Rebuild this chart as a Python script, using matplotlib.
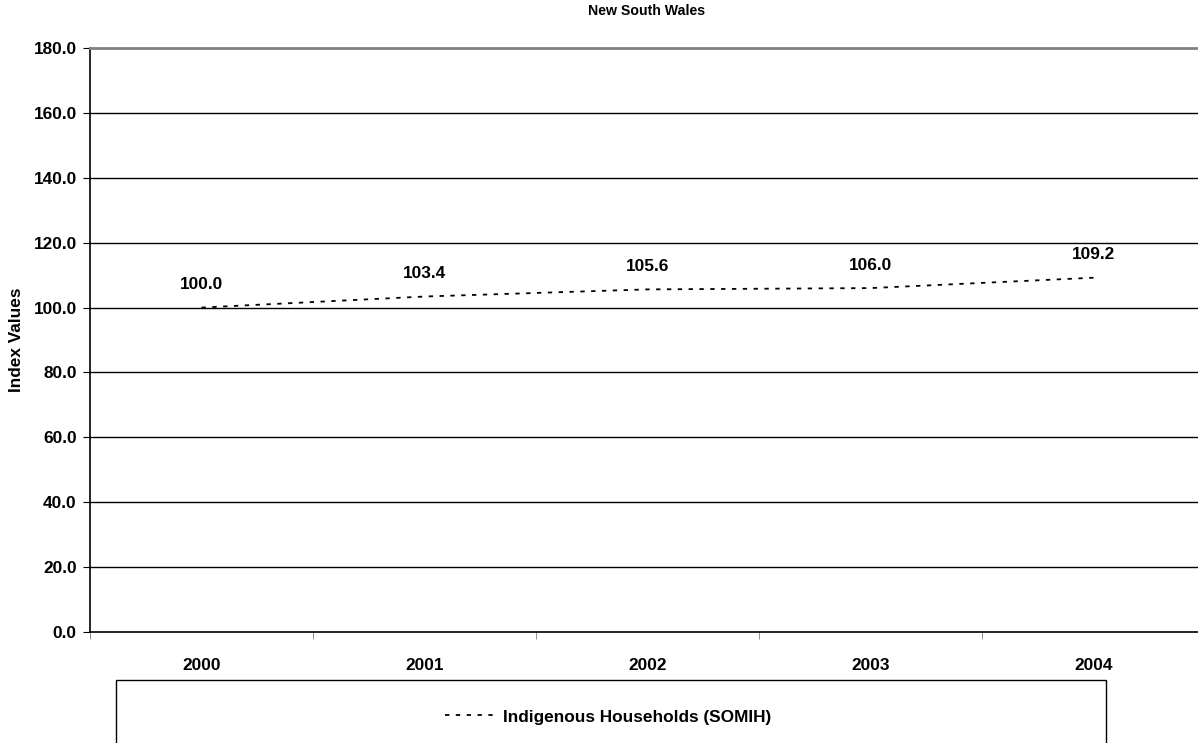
import numpy as np
import matplotlib
matplotlib.use('Agg')
from matplotlib import pyplot as plt
from matplotlib.patches import Rectangle

years = ['2000', '2001', '2002', '2003', '2004']
somih = [100.0, 103.4, 105.6, 106.0, 109.2]
series_name = 'Indigenous Households (SOMIH)'
y_ticks = [0, 20, 40, 60, 80, 100, 120, 140, 160, 180]

plt.rcParams['font.family'] = ['Liberation Sans', 'DejaVu Sans']
plt.rcParams['font.weight'] = 'bold'

W, H = 1198, 743
fs = 12.4
fig = plt.figure(figsize=(W / 100, H / 100), dpi=100)

# plot area in pixel terms: left 90, right 1205 (runs past the edge), top 48, bottom 632
ax = fig.add_axes([90 / W, (H - 632) / H, 1115 / W, 584 / H])

x = np.arange(len(years))
line, = ax.plot(x, somih, color='k', lw=1.3, ls=(0, (2.4, 3.6)), label=series_name)

for xi, v in zip(x, somih):
    ax.annotate('{:.1f}'.format(v), (xi, v), xytext=(0, 16.5), textcoords='offset points',
                ha='center', va='center', fontsize=fs, fontweight='bold')

ax.set_xlim(-0.5, len(years) - 0.5)
ax.set_ylim(0, 180)
ax.set_yticks(y_ticks)
ax.set_yticklabels(['{:.1f}'.format(t) for t in y_ticks], fontsize=fs, fontweight='bold')
ax.set_xticks(x)
ax.set_xticklabels(years, fontsize=fs, fontweight='bold')
ax.tick_params(axis='x', length=0, pad=19)
ax.set_xticks(np.arange(len(years) + 1) - 0.5, minor=True)
ax.tick_params(axis='x', which='minor', length=5, color='#808080', direction='out')
ax.tick_params(axis='y', length=5, color='k', direction='out', pad=4.5)

for t in y_ticks[1:-1]:
    ax.axhline(t, color='k', lw=1.0, zorder=0)

ax.spines['top'].set_color('#808080')
ax.spines['top'].set_linewidth(2.0)
ax.spines['right'].set_visible(False)
ax.spines['left'].set_color('k')
ax.spines['left'].set_linewidth(1.2)
ax.spines['bottom'].set_color('k')
ax.spines['bottom'].set_linewidth(1.2)

ax.set_ylabel('Index Values', fontsize=fs, fontweight='bold', labelpad=7)
fig.text(647 / W, 1 - 11 / H, 'New South Wales', ha='center', va='center',
         fontsize=10.2, fontweight='bold')

# legend box, its bottom edge falls below the image
fig.patches.append(Rectangle((116 / W, -0.05), 990 / W, 0.05 + (H - 680) / H,
                             transform=fig.transFigure, fill=False,
                             edgecolor='k', lw=1.0))
fig.legend(handles=[line], loc='center', bbox_to_anchor=(608 / W, 1 - 717 / H),
           frameon=False, handlelength=3.1, handletextpad=0.25,
           prop={'weight': 'bold', 'size': fs})

fig.savefig('out.png', dpi=100)
